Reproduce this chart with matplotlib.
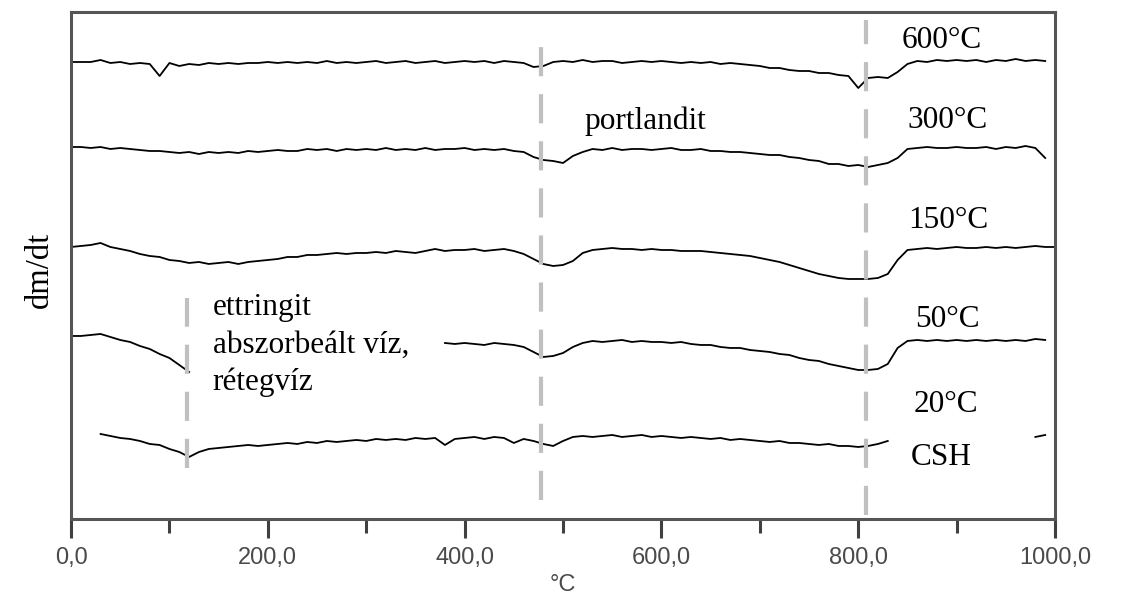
#!/usr/bin/env python3
"""DTG curves (dm/dt) of samples pre-heated to different temperatures."""

import numpy as np
import matplotlib.pyplot as plt
from matplotlib.ticker import FixedLocator

# sample temperatures (°C), one reading every 10 °C
temp_c = list(range(0, 1001, 10))

# dm/dt readings, arbitrary units (curves are stacked, higher = up); None = no data
dtg_600 = [
    457, 457, 457, 459, 456, 457, 455, 456, 455, 443,
    456, 453, 455, 454, 456, 455, 456, 455, 456, 456,
    457, 456, 457, 456, 457, 456, 458, 456, 457, 456,
    457, 458, 456, 457, 458, 456, 457, 458, 456, 457,
    458, 457, 458, 456, 458, 457, 456, 452, 453, 457,
    458, 457, 459, 457, 458, 458, 456, 457, 458, 457,
    458, 457, 456, 457, 456, 457, 455, 456, 455, 454,
    453, 451, 451, 449, 448, 448, 446, 446, 444, 443,
    431, 441, 442, 441, 447, 455, 458, 457, 459, 458,
    459, 458, 459, 457, 459, 458, 460, 458, 459, 458,
    None,
]
dtg_300 = [
    372, 372, 371, 372, 370, 371, 370, 369, 368, 368,
    367, 366, 367, 365, 367, 366, 367, 366, 368, 367,
    368, 369, 368, 368, 370, 369, 370, 368, 370, 369,
    370, 369, 371, 369, 370, 369, 371, 369, 370, 370,
    371, 369, 370, 369, 370, 368, 367, 362, 359, 358,
    356, 363, 367, 370, 369, 371, 369, 370, 370, 369,
    370, 371, 369, 369, 370, 368, 368, 367, 367, 366,
    365, 364, 364, 362, 361, 359, 358, 355, 355, 353,
    354, 352, 354, 356, 361, 370, 371, 372, 371, 371,
    372, 371, 371, 372, 370, 372, 371, 373, 371, 361,
    None,
]
dtg_150 = [
    272, 273, 274, 276, 272, 270, 268, 265, 263, 262,
    259, 258, 256, 257, 255, 256, 257, 255, 257, 258,
    259, 260, 262, 262, 264, 264, 265, 266, 265, 266,
    266, 267, 266, 268, 267, 266, 268, 270, 268, 269,
    269, 270, 268, 269, 270, 268, 265, 260, 255, 253,
    254, 258, 266, 269, 270, 271, 270, 270, 269, 270,
    269, 269, 268, 268, 268, 267, 266, 265, 264, 263,
    261, 259, 257, 254, 251, 248, 245, 243, 241, 240,
    240, 240, 241, 245, 259, 269, 270, 271, 270, 271,
    272, 271, 271, 272, 271, 272, 271, 272, 273, 272,
    272,
]
dtg_50 = [
    183, 183, 184, 185, 182, 179, 177, 173, 170, 165,
    161, 154, 147, None, None, None, None, None, None, None,
    None, None, None, None, None, None, None, None, None, None,
    None, None, None, None, None, None, None, None, 176, 175,
    176, 175, 174, 176, 175, 174, 172, 167, 162, 163,
    166, 172, 176, 178, 177, 178, 179, 177, 178, 177,
    177, 176, 177, 175, 174, 174, 172, 171, 171, 169,
    168, 167, 165, 164, 161, 159, 158, 155, 153, 151,
    149, 149, 150, 155, 171, 178, 179, 178, 179, 178,
    179, 178, 179, 178, 179, 178, 179, 178, 180, 179,
    None,
]
dtg_20 = [
    None, None, None, 85, 83, 81, 80, 78, 75, 74,
    70, 67, 62, 67, 70, 71, 72, 73, 74, 73,
    74, 75, 76, 75, 77, 76, 78, 77, 78, 79,
    78, 80, 79, 80, 79, 81, 80, 81, 74, 80,
    81, 82, 80, 82, 81, 76, 80, 78, 75, 73,
    78, 82, 83, 82, 83, 84, 82, 83, 84, 82,
    83, 82, 81, 82, 81, 80, 81, 79, 80, 79,
    78, 77, 78, 76, 76, 75, 74, 75, 73, 73,
    72, 73, 75, 78, None, None, None, None, None, None,
    None, None, None, None, None, None, None, None, 82, 84,
    None,
]

curves = [dtg_600, dtg_300, dtg_150, dtg_50, dtg_20]

# reaction markers: temperature and vertical extent
marker_temps = [118, 478, 808]
marker_spans = [(51, 221), (19, 477), (4, 499)]

xticks_major = [0, 200, 400, 600, 800, 1000]
xticks_minor = [100, 300, 500, 700, 900]
xtick_labels = ["0,0", "200,0", "400,0", "600,0", "800,0", "1000,0"]

# curve labels (temperature, dm/dt, text)
labels = [
    (844, 471, "600°C"),
    (850, 391, "300°C"),
    (851, 291, "150°C"),
    (858, 192, "50°C"),
    (856, 107, "20°C"),
    (853, 54, "CSH"),
    (522, 390, "portlandit"),
    (144, 204, "ettringit"),
    (144, 166, "abszorbeált víz,"),
    (144, 129, "rétegvíz"),
]

serif = ["Liberation Serif", "DejaVu Serif"]
sans = ["Liberation Sans", "DejaVu Sans"]

fig = plt.figure(figsize=(11.33, 5.97), dpi=100)
ax = fig.add_axes([0.0627, 0.1307, 0.8685, 0.8492])

temps = np.array(temp_c, dtype=float)
for vals in curves:
    y = np.array([np.nan if v is None else v for v in vals], dtype=float)
    ax.plot(temps, y, color="black", linewidth=1.3, zorder=2)

for t, (lo, hi) in zip(marker_temps, marker_spans):
    ax.plot([t, t], [lo, hi], color="#c0c0c0", linewidth=3.0,
            dashes=(7.0, 4.3), zorder=3, solid_capstyle="butt",
            dash_capstyle="butt")

for t, v, s in labels:
    ax.text(t, v, s, family=serif, fontsize=22.5, va="baseline",
            ha="left", color="black", zorder=4)

ax.set_xlim(0, 1000)
ax.set_ylim(0, 507)
ax.xaxis.set_major_locator(FixedLocator(xticks_major))
ax.xaxis.set_minor_locator(FixedLocator(xticks_minor))
ax.set_xticklabels(xtick_labels, family=sans, fontsize=17, color="#4a4a4a")
ax.set_yticks([])
ax.tick_params(axis="x", which="major", direction="out", length=14,
               width=2.2, color="#404040", pad=6)
ax.tick_params(axis="x", which="minor", direction="out", length=10,
               width=2.2, color="#404040")
for sp in ax.spines.values():
    sp.set_color("#555555")
    sp.set_linewidth(2.2)

ax.set_xlabel("°C", family=sans, fontsize=17, color="#4a4a4a", labelpad=4)
fig.text(0.035, 0.548, "dm/dt", family=serif, fontsize=23.5,
         rotation=90, ha="center", va="center")

plt.savefig("out.png", dpi=100)
